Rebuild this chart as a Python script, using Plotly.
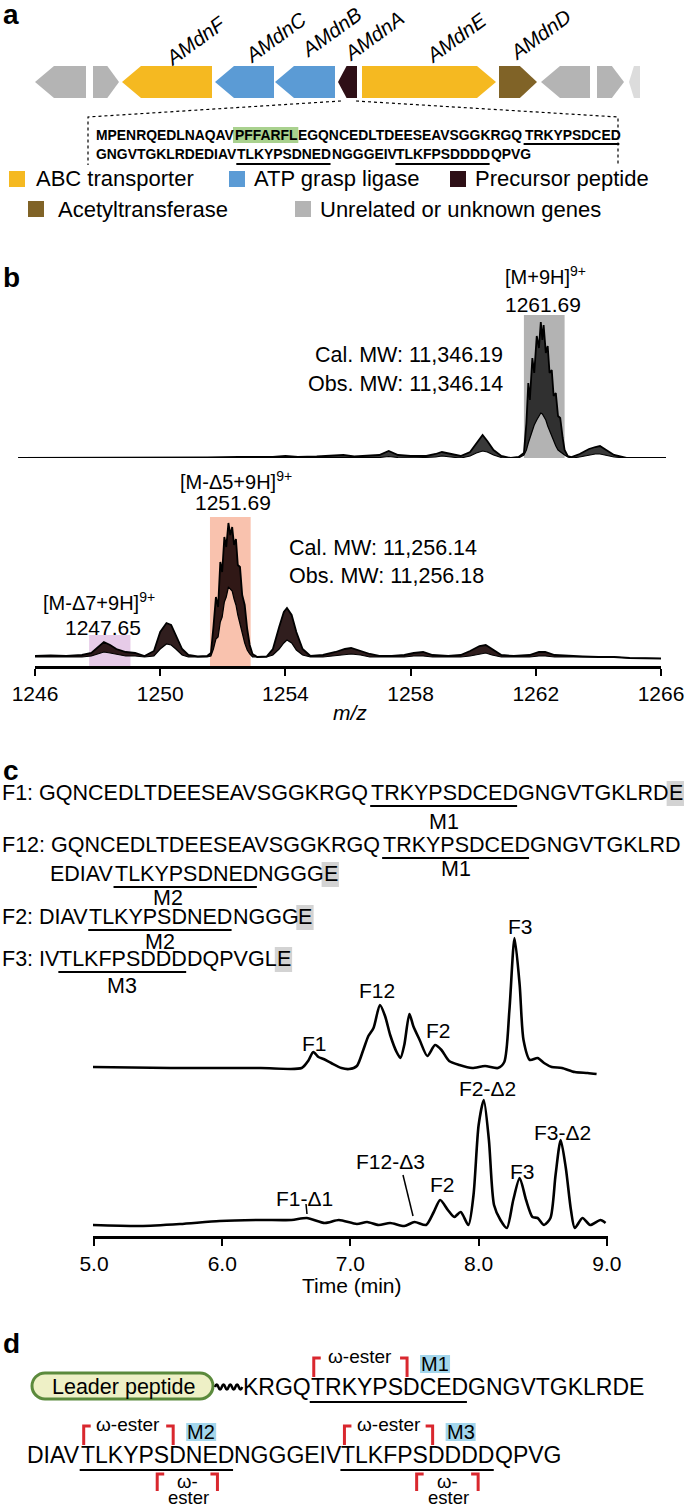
import plotly.graph_objects as go

W, H = 685, 1509
SANS = "Liberation Sans, Arial, Helvetica, sans-serif"

# ---------------- Panel a data ----------------
gene_names = ["", "", "AMdnF", "AMdnC", "AMdnB", "AMdnA", "AMdnE", "AMdnD", "", "", ""]
gene_start_kb = [0.70, 1.86, 2.44, 4.30, 5.50, 6.76, 7.24, 9.98, 10.82, 11.94, 12.58]
gene_end_kb = [1.72, 2.38, 4.24, 5.48, 6.70, 7.14, 9.92, 10.74, 11.80, 12.48, 12.80]
gene_strand = [-1, 1, -1, -1, -1, -1, 1, 1, -1, 1, -1]
gene_class = ["unknown", "unknown", "abc", "atp", "atp", "precursor", "abc", "acetyl",
              "unknown", "unknown", "faded"]
class_colors = {"abc": "#f5b921", "atp": "#5b9bd5", "precursor": "#2e0f16",
                "acetyl": "#806327", "unknown": "#b4b4b4", "faded": "#dcdcdc"}
legend_labels = ["ABC transporter", "ATP grasp ligase", "Precursor peptide",
                 "Acetyltransferase", "Unrelated or unknown genes"]
legend_classes = ["abc", "atp", "precursor", "acetyl", "unknown"]

# ---------------- Panel b data (m/z, intensity upper / lower isotopic envelope) ----------------
top_mz = [1245.46, 1246.5, 1247.5, 1248.5, 1249.5, 1250.5, 1251.5, 1252.5, 1253.6, 1254.0,
          1254.4, 1255.0, 1255.5, 1255.85, 1256.2, 1256.7, 1257.0, 1257.3, 1257.6, 1258.0,
          1258.5, 1258.8, 1259.0, 1259.3, 1259.6, 1259.9, 1260.1, 1260.3, 1260.45, 1260.65,
          1260.9, 1261.2, 1261.45, 1261.62, 1261.70, 1261.76, 1261.81, 1261.89, 1261.95, 1262.03,
          1262.10, 1262.16, 1262.21, 1262.25, 1262.32, 1262.38, 1262.44, 1262.51, 1262.57, 1262.64,
          1262.71, 1262.78, 1262.86, 1262.92, 1263.02, 1263.14, 1263.4, 1263.7, 1263.9, 1264.05,
          1264.25, 1264.5, 1264.9, 1265.5, 1266.16]
top_upper = [0, 0, 0, 0, 0.5, 0.5, 0.5, 1, 1, 2,
             1, 1.5, 2, 3, 1.5, 2, 3, 7, 3, 2,
             2, 4, 6, 4, 2, 6, 15, 23, 17, 8,
             2, 0, 1, 5, 35, 75, 58, 100, 85, 122,
             110, 136, 118, 133, 105, 112, 85, 88, 62, 65,
             42, 40, 20, 8, 2, 1, 4, 9, 11, 12,
             8, 3, 0, 0, 0]
top_lower = [0, 0, 0, 0, 0, 0, 0, 0, 0, 0,
             0, 0, 0.5, 0.5, 0, 0.5, 0.5, 1.5, 0.5, 0,
             0.5, 1, 2, 1, 0, 2, 5, 7, 6, 3,
             0.5, 0, 0, 3, 8, 15, 20, 28, 33, 38,
             42, 45, 44, 42, 38, 32, 27, 22, 17, 12,
             8, 6, 4, 3, 1, 0, 1, 3, 4, 4,
             3, 1, 0, 0, 0]

bot_mz = [1246.0, 1246.5, 1247.0, 1247.5, 1247.8, 1248.0, 1248.2, 1248.4, 1248.6, 1248.9,
          1249.2, 1249.5, 1249.8, 1250.0, 1250.2, 1250.35, 1250.5, 1250.7, 1250.9, 1251.2,
          1251.5, 1251.62, 1251.70, 1251.78, 1251.85, 1251.92, 1251.98, 1252.05, 1252.11, 1252.18,
          1252.24, 1252.30, 1252.36, 1252.42, 1252.48, 1252.55, 1252.62, 1252.70, 1252.78, 1252.86,
          1252.95, 1253.1, 1253.4, 1253.6, 1253.8, 1253.95, 1254.05, 1254.2, 1254.35, 1254.55,
          1254.8, 1255.2, 1255.6, 1255.9, 1256.1, 1256.4, 1256.7, 1257.0, 1257.4, 1257.8,
          1258.1, 1258.4, 1258.7, 1259.2, 1259.6, 1259.9, 1260.2, 1260.4, 1260.6, 1260.9,
          1261.3, 1261.8, 1262.1, 1262.3, 1262.6, 1263.0, 1263.5, 1264.0, 1264.5, 1265.0, 1266.0]
bot_upper = [1, 1.5, 1, 2, 4, 10, 15, 12, 8, 5,
             4, 1, 6, 25, 34, 32, 22, 8, 2, 0.5,
             1, 4, 30, 60, 50, 95, 85, 120, 110, 134,
             122, 130, 112, 118, 92, 90, 62, 52, 28, 12,
             3, 0, 0.5, 8, 30, 45, 49, 42, 25, 8,
             1, 2, 5, 8, 9, 6, 3, 1, 1, 2,
             4, 5, 2, 1, 2, 6, 11, 12, 8, 2,
             1, 2, 5, 5, 2, 1, 0.5, 0, 0, -1, -1.5]
bot_lower = [0, 0, 0, 0, 1, 3, 5, 4, 3, 1,
             1, 0, 1, 8, 13, 12, 8, 2, 0, 0,
             0, 1, 8, 18, 20, 35, 40, 55, 60, 70,
             68, 66, 58, 52, 42, 32, 22, 14, 7, 3,
             0, 0, 0, 2, 8, 14, 17, 14, 7, 2,
             0, 0, 1, 2, 3, 2, 0, 0, 0, 0,
             1, 1, 0, 0, 0, 1, 3, 4, 2, 0,
             0, 0, 1, 1, 0, 0, 0, 0, 0, -1, -1.5]
mz_ticks = [1246, 1250, 1254, 1258, 1262, 1266]

# ---------------- Panel c data (retention time, signal) ----------------
ctl_time = [4.99, 5.60, 6.30, 6.62, 6.67, 6.71, 6.75, 6.79, 6.85, 6.93,
            6.99, 7.05, 7.10, 7.14, 7.18, 7.23, 7.27, 7.31, 7.36, 7.39,
            7.42, 7.46, 7.49, 7.54, 7.60, 7.66, 7.71, 7.77, 7.85, 7.95,
            8.05, 8.15, 8.20, 8.24, 8.28, 8.32, 8.35, 8.40, 8.46, 8.51,
            8.57, 8.65, 8.75, 8.85, 8.92]
ctl_signal = [13, 12, 12, 12, 19, 28, 23, 21, 17, 12,
              11, 14, 30, 44, 52, 75, 64, 45, 28, 22,
              35, 66, 54, 40, 24, 35, 30, 19, 15, 12,
              14, 12, 18, 70, 142, 95, 40, 20, 22, 17,
              13, 12, 8, 7, 6]
trt_time = [4.99, 5.36, 5.67, 5.98, 6.29, 6.54, 6.66, 6.80, 6.91, 7.05,
            7.13, 7.22, 7.31, 7.42, 7.50, 7.59, 7.65, 7.70, 7.76, 7.81,
            7.86, 7.92, 7.96, 8.00, 8.04, 8.08, 8.12, 8.17, 8.22, 8.27,
            8.32, 8.37, 8.42, 8.46, 8.51, 8.56, 8.60, 8.64, 8.68, 8.72,
            8.75, 8.81, 8.87, 8.95, 8.99]
trt_signal = [11, 10, 12, 15, 16, 16, 18, 13, 16, 12,
              14, 11, 13, 10, 14, 11, 24, 36, 26, 19,
              24, 11, 41, 111, 136, 96, 31, 16, 8, 36,
              58, 36, 19, 18, 11, 18, 61, 96, 68, 26,
              8, 18, 11, 16, 13]
time_ticks = [5.0, 6.0, 7.0, 8.0, 9.0]

assert len(top_mz) == len(top_upper) == len(top_lower)
assert len(bot_mz) == len(bot_upper) == len(bot_lower)
assert len(ctl_time) == len(ctl_signal) and len(trt_time) == len(trt_signal)

# Arial / Liberation Sans advance widths (per 1000 em) used to place text segments
REG = dict(A=667, B=667, C=722, D=722, E=667, F=611, G=778, H=722, I=278, K=667, L=556, M=833,
           N=722, P=667, Q=778, R=722, S=667, T=611, V=667, W=944, Y=667)
REG.update({" ": 278, ":": 278, "1": 556, "2": 556, "3": 556})
BOLD = dict(A=722, B=722, C=722, D=722, E=667, F=611, G=778, H=722, I=278, K=722, L=611, M=833,
            N=722, P=667, Q=778, R=722, S=667, T=611, V=667, W=944, Y=667)


def tw(s, size, bold=False):
    tab = BOLD if bold else REG
    return sum(tab.get(c, 600) for c in s) / 1000 * size


def px_x(x):
    return x / W


def px_y(y):
    return 1 - y / H


annotations = []
shapes = []


def text(s, x, y, size=21.5, anchor="center", family=SANS, color="black", angle=0, yanchor="middle"):
    annotations.append(dict(text=s, x=px_x(x), y=px_y(y), xref="paper", yref="paper",
                            xanchor=anchor, yanchor=yanchor, showarrow=False, textangle=angle,
                            borderpad=0, font=dict(size=size, family=family, color=color)))


def seg(x0, y0, x1, y1, width=2, color="black", dash="solid"):
    shapes.append(dict(type="line", xref="paper", yref="paper", x0=px_x(x0), x1=px_x(x1),
                       y0=px_y(y0), y1=px_y(y1), line=dict(color=color, width=width, dash=dash)))


def rect(x0, y0, x1, y1, fill, layer="below"):
    shapes.append(dict(type="rect", xref="paper", yref="paper", x0=px_x(x0), x1=px_x(x1),
                       y0=px_y(y1), y1=px_y(y0), fillcolor=fill, line=dict(width=0), layer=layer))


def ppath(points, close=False, color="black", width=1, dash="solid", fill=None):
    d = "M " + " L ".join(f"{px_x(x):.5f},{px_y(y):.5f}" for x, y in points)
    if close:
        d += " Z"
    shapes.append(dict(type="path", xref="paper", yref="paper", path=d,
                       line=dict(color=color, width=width, dash=dash),
                       fillcolor=fill if fill else "rgba(0,0,0,0)"))


def seq_line(segments, x0, y, size, bold=False):
    """Draw consecutive text segments; return (start, end) of each segment."""
    pos = []
    x = x0
    for s in segments:
        w = tw(s, size, bold)
        text(f"<b>{s}</b>" if bold else s, x, y, size=size, anchor="left")
        pos.append((x, x + w))
        x += w
    return pos


def char_span(segment, start, i, size, bold=False):
    a = start + tw(segment[:i], size, bold)
    return a, a + tw(segment[i], size, bold)


fig = go.Figure()

# ---------------- Panel a ----------------
text("<b>a</b>", 2, 14, size=28, anchor="left")
for s, e, st, cl in zip(gene_start_kb, gene_end_kb, gene_strand, gene_class):
    head = min(0.38, 0.45 * (e - s))
    if st < 0:
        xs = [s, s + head, e, e, s + head, s]
        ys = [0, 1, 1, -1, -1, 0]
    else:
        xs = [s, e - head, e, e - head, s, s]
        ys = [1, 1, 0, -1, -1, 1]
    fig.add_trace(go.Scatter(x=xs, y=ys, xaxis="x", yaxis="y", mode="lines", fill="toself",
                             fillcolor=class_colors[cl], line=dict(width=0, color=class_colors[cl]),
                             hoverinfo="skip", showlegend=False))

label_pos = {"AMdnF": (195, 40), "AMdnC": (275, 38), "AMdnB": (330, 32), "AMdnA": (374, 36),
             "AMdnE": (456, 38), "AMdnD": (540, 35)}
for name in gene_names:
    if name:
        x, y = label_pos[name]
        text(f"<i>{name}</i>", x, y, size=20.5, angle=-36)

ppath([(341, 101), (88, 117), (88, 165)], dash="dot", width=1.2)
ppath([(356, 101), (618, 117), (618, 165)], dash="dot", width=1.2)

SEQ_SIZE = 13.9
l1 = ["MPENRQEDLNAQAV", "PFFARFL", "EGQNCEDLTDEESEAVSGGKRGQ", "TRKYPSDCED"]
p1 = seq_line(l1, 95, 135, SEQ_SIZE, bold=True)
rect(p1[1][0] - 1, 127, p1[1][1] + 1, 143, "#a9d18e")
seg(p1[3][0], 144, p1[3][1], 144, width=2)
l2 = ["GNGVTGKLRDEDIAV", "TLKYPSDNED", "NGGGEIV", "TLKFPSDDDD", "QPVG"]
p2 = seq_line(l2, 95, 154, SEQ_SIZE, bold=True)
seg(p2[1][0], 164, p2[1][1], 164, width=2)
seg(p2[3][0], 164, p2[3][1], 164, width=2)

leg_pos = [(9, 179, 35), (229, 179, 253), (450, 179, 474), (28, 209, 57), (295, 209, 319)]
for lab, cl, (sx, sy, tx) in zip(legend_labels, legend_classes, leg_pos):
    rect(sx, sy - 8, sx + 16, sy + 8, class_colors[cl])
    text(lab, tx, sy, size=22, anchor="left")

# ---------------- Panel b ----------------
text("<b>b</b>", 2, 277, size=28, anchor="left")
shapes.append(dict(type="rect", xref="x2", yref="y2", x0=1261.62, x1=1262.92, y0=-4, y1=143,
                   fillcolor="#b3b3b3", line=dict(width=0), layer="below"))
shapes.append(dict(type="rect", xref="x3", yref="y3", x0=1251.59, x1=1252.89, y0=-9, y1=140,
                   fillcolor="#f9c2ae", line=dict(width=0), layer="below"))
shapes.append(dict(type="rect", xref="x3", yref="y3", x0=1247.73, x1=1249.05, y0=-9, y1=22,
                   fillcolor="#e6cbe8", line=dict(width=0), layer="below"))

fig.add_trace(go.Scatter(x=top_mz, y=top_lower, xaxis="x2", yaxis="y2", mode="lines",
                         line=dict(color="black", width=1.2), hoverinfo="skip", showlegend=False))
fig.add_trace(go.Scatter(x=top_mz, y=top_upper, xaxis="x2", yaxis="y2", mode="lines",
                         line=dict(color="black", width=1.8), fill="tonexty",
                         fillcolor="rgba(30,30,30,0.88)", hoverinfo="skip", showlegend=False))
fig.add_trace(go.Scatter(x=bot_mz, y=bot_lower, xaxis="x3", yaxis="y3", mode="lines",
                         line=dict(color="black", width=1.2), hoverinfo="skip", showlegend=False))
fig.add_trace(go.Scatter(x=bot_mz, y=bot_upper, xaxis="x3", yaxis="y3", mode="lines",
                         line=dict(color="black", width=1.8), fill="tonexty",
                         fillcolor="rgba(25,5,5,0.9)", hoverinfo="skip", showlegend=False))

text("[M+9H]<sup>9+</sup>", 545, 275, size=20)
text("1261.69", 543, 304, size=21)
text("Cal. MW: 11,346.19", 504, 355, size=21.5, anchor="right")
text("Obs. MW: 11,346.14", 504, 384, size=21.5, anchor="right")
text("[M-Δ5+9H]<sup>9+</sup>", 236, 480, size=20)
text("1251.69", 233, 503, size=21)
text("Cal. MW: 11,256.14", 288, 548, size=21.5, anchor="left")
text("Obs. MW: 11,256.18", 288, 576, size=21.5, anchor="left")
text("[M-Δ7+9H]<sup>9+</sup>", 99, 601, size=20)
text("1247.65", 103, 627, size=21)
text("<i>m/z</i>", 350, 712, size=21)

# ---------------- Panel c ----------------
text("<b>c</b>", 2, 770, size=28, anchor="left")
CS = 21.5
c_lines = [
    (["F1: GQNCEDLTDEESEAVSGGKRGQ", "TRKYPSDCED", "GNGVTGKLRD", "E"], 1, 793, "M1", 0, 822),
    (["F12: GQNCEDLTDEESEAVSGGKRGQ", "TRKYPSDCED", "GNGVTGKLRD"], 1, 845, "M1", 0, 869),
    (["EDIAV", "TLKYPSDNED", "NGGG", "E"], 49, 874, "M2", -17, 898),
    (["F2: DIAV", "TLKYPSDNED", "NGGG", "E"], 1, 917, "M2", 0, 942),
    (["F3: IV", "TLKFPSDDD", "DQPVGL", "E"], 1, 959, "M3", 0, 986),
]
for segs, x0, y, mlabel, moff, my in c_lines:
    pos = seq_line(segs, x0, y, CS)
    seg(pos[1][0], y + 13, pos[1][1], y + 13, width=2)
    text(mlabel, (pos[1][0] + pos[1][1]) / 2 + moff, my, size=CS)
    if segs[-1] == "E":
        rect(pos[-1][0] - 1, y - 12, pos[-1][1] + 2, y + 13, "#d3d3d3")

fig.add_trace(go.Scatter(x=ctl_time, y=ctl_signal, xaxis="x4", yaxis="y4", mode="lines",
                         line=dict(color="black", width=2.6, shape="spline", smoothing=0.7),
                         hoverinfo="skip", showlegend=False))
fig.add_trace(go.Scatter(x=trt_time, y=trt_signal, xaxis="x5", yaxis="y5", mode="lines",
                         line=dict(color="black", width=2.6, shape="spline", smoothing=0.7),
                         hoverinfo="skip", showlegend=False))

text("F1", 314, 1043, size=21)
text("F12", 377, 990, size=21)
text("F2", 438, 1030, size=21)
text("F3", 520, 927, size=21)
text("F1-Δ1", 304, 1198, size=21)
seg(306, 1204, 307, 1214, width=1.5)
text("F12-Δ3", 390, 1161, size=21)
seg(403, 1175, 413, 1216, width=1.5)
text("F2", 442, 1184, size=21)
text("F2-Δ2", 487, 1088, size=21)
text("F3", 522, 1171, size=21)
text("F3-Δ2", 562, 1132, size=21)
text("Time (min)", 352, 1285, size=21)

# ---------------- Panel d ----------------
text("<b>d</b>", 2, 1343, size=28, anchor="left")
RED = "#d9272e"
MBOX = "#a3d6ec"
x0, x1, y0, y1, r = 32, 213, 1373, 1399, 13
k = 0.552 * r


def P(x, y):
    return f"{px_x(x):.5f},{px_y(y):.5f}"


pill = (f"M {P(x0 + r, y0)} L {P(x1 - r, y0)} C {P(x1 - r + k, y0)} {P(x1, y0 + r - k)} {P(x1, y0 + r)} "
        f"C {P(x1, y0 + r + k)} {P(x1 - r + k, y1)} {P(x1 - r, y1)} L {P(x0 + r, y1)} "
        f"C {P(x0 + r - k, y1)} {P(x0, y0 + r + k)} {P(x0, y0 + r)} "
        f"C {P(x0, y0 + r - k)} {P(x0 + r - k, y0)} {P(x0 + r, y0)} Z")
shapes.append(dict(type="path", xref="paper", yref="paper", path=pill, fillcolor="#eef0c6",
                   line=dict(color="#5b8a3c", width=3)))
text("Leader peptide", 123, 1387, size=21.5)
sq = f"M {P(215, 1387)}"
for i in range(8):
    cx = 215 + 3.4 * i + 1.7
    cy = 1387 + (-5 if i % 2 == 0 else 5)
    sq += f" Q {P(cx, cy)} {P(215 + 3.4 * (i + 1), 1387)}"
shapes.append(dict(type="path", xref="paper", yref="paper", path=sq,
                   line=dict(color="black", width=2.5), fillcolor="rgba(0,0,0,0)"))

DS = 23


def bracket(xl, xr, ytop, ybot):
    ppath([(xl + 7, ytop), (xl, ytop), (xl, ybot)], color=RED, width=3)
    ppath([(xr - 7, ytop), (xr, ytop), (xr, ybot)], color=RED, width=3)


def motif_marks(motif, start, y, mname, bottom=False):
    seg(start, y + 15, start + tw(motif, DS), y + 15, width=2)
    a0, a1 = char_span(motif, start, 0, DS)
    b0, b1 = char_span(motif, start, 6, DS)
    xl, xr = (a0 + a1) / 2 - 3, (b0 + b1) / 2 - 3
    bracket(xl, xr, y - 29, y - 10)
    text("ω-ester", (xl + xr) / 2, y - 31, size=19)
    rect(xr + 13, y - 32, xr + 43, y - 14, MBOX)
    text(mname, xr + 28, y - 23, size=20)
    if bottom:
        c0, c1 = char_span(motif, start, 5, DS)
        d0, d1 = char_span(motif, start, 9, DS)
        bl, br = (c0 + c1) / 2 - 3, d0 + 1
        bracket(bl, br, y + 19, y + 36)
        text("ω-", (bl + br) / 2, y + 26, size=18.5)
        text("ester", (bl + br) / 2 + 1, y + 42, size=18.5)


d1 = ["KRGQ", "TRKYPSDCED", "GNGVTGKLRDE"]
q1 = seq_line(d1, 242, 1387, DS)
motif_marks(d1[1], q1[1][0], 1387, "M1")
d2 = ["DIAV", "TLKYPSDNED", "NGGGEIV", "TLKFPSDDDD", "QPVG"]
q2 = seq_line(d2, 26, 1455, DS)
motif_marks(d2[1], q2[1][0], 1455, "M2", bottom=True)
motif_marks(d2[3], q2[3][0], 1455, "M3", bottom=True)

# ---------------- layout ----------------
# m/z axis: 1246 at x=35 px, 1266 at x=661 px (same scale for both spectra)
MZ_L, MZ_R = 35, 661
mz_scale = (MZ_R - MZ_L) / (1266 - 1246)
top_lo, top_hi = top_mz[0], top_mz[-1]
top_dom = [MZ_L + (top_lo - 1246) * mz_scale, MZ_L + (top_hi - 1246) * mz_scale]

hidden = dict(visible=False, showgrid=False, zeroline=False, fixedrange=True, automargin=False)
vis = dict(showline=True, linecolor="black", linewidth=2.5, ticks="outside", ticklen=7,
           tickwidth=2, tickcolor="black", showgrid=False, zeroline=False, fixedrange=True,
           automargin=False, ticklabeloverflow="allow")
fig.update_layout(
    width=W, height=H, margin=dict(l=0, r=0, t=0, b=0, pad=0, autoexpand=False),
    paper_bgcolor="white", plot_bgcolor="rgba(0,0,0,0)",
    font=dict(family=SANS, color="black"), showlegend=False,
    xaxis=dict(domain=[0, 1], range=[0, W / 50], anchor="y", **hidden),
    yaxis=dict(domain=[px_y(98), px_y(66)], range=[-1, 1], anchor="x", **hidden),
    xaxis2=dict(domain=[px_x(top_dom[0]), px_x(top_dom[1])], range=[top_lo, top_hi], anchor="y2", **hidden),
    yaxis2=dict(domain=[px_y(458), px_y(300)], range=[0, 158], anchor="x2", **hidden),
    xaxis3=dict(domain=[px_x(MZ_L), px_x(MZ_R)], range=[1246, 1266], anchor="y3",
                tickvals=mz_ticks, tickfont=dict(size=21, family=SANS, color="black"), **vis),
    yaxis3=dict(domain=[px_y(666), px_y(505)], range=[-9, 152], anchor="x3", **hidden),
    xaxis4=dict(domain=[px_x(93), px_x(608)], range=[4.992, 9.009], anchor="y4", **hidden),
    yaxis4=dict(domain=[px_y(1080), px_y(930)], range=[0, 150], anchor="x4", **hidden),
    xaxis5=dict(domain=[px_x(93), px_x(608)], range=[4.992, 9.009], anchor="y5",
                tickvals=time_ticks, tickformat=".1f",
                tickfont=dict(size=21, family=SANS, color="black"), **vis),
    yaxis5=dict(domain=[px_y(1236), px_y(1090)], range=[0, 146], anchor="x5", **hidden),
    annotations=annotations, shapes=shapes,
)

fig.write_html(
    "out.html",
    config={"displayModeBar": False, "staticPlot": True},
    post_script="document.body.style.margin='0px';document.body.style.padding='0px';"
                "document.documentElement.style.overflow='hidden';",
)
